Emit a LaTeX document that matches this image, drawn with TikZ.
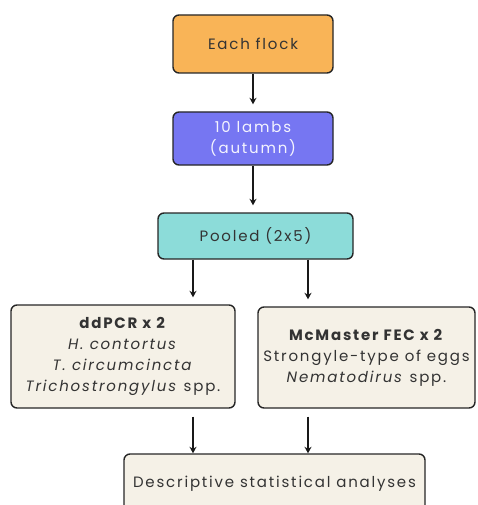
\documentclass[tikz,border=0pt]{standalone}
\usepackage{fontspec}
\setmainfont{Poppins}[LetterSpace=12]
\usepackage{tikz}
\usetikzlibrary{arrows.meta}

\definecolor{flockorange}{HTML}{F9B457}
\definecolor{lambblue}{HTML}{7676F2}
\definecolor{poolteal}{HTML}{8CDCD9}
\definecolor{labbeige}{HTML}{F5F1E7}

\begin{document}
\begin{tikzpicture}[x=1pt, y=-1pt,
  box/.style={draw=black!85, line width=1.4pt, rounded corners=6pt, align=center,
    inner sep=0pt, font=\fontsize{15}{21}\selectfont, text=black!80},
  >={Stealth[length=6.5pt,width=7pt]}]
  \useasboundingbox (0,0) rectangle (477,505);
  \node (flock) [box, fill=flockorange, minimum width=160pt, minimum height=58pt] at (253,44) {Each flock};
  \node (lambs) [box, fill=lambblue, text=white!92!lambblue, minimum width=160pt, minimum height=53pt] at (253,138.5) {10 lambs\\(autumn)};
  \node (pooled) [box, fill=poolteal, minimum width=195pt, minimum height=46pt] at (255.5,236) {Pooled (2x5)};
  \node (ddpcr) [box, fill=labbeige, minimum width=224pt, minimum height=103pt] at (123,356.5)
    {\textbf{ddPCR x 2}\\\textit{H. contortus}\\\textit{T. circumcincta}\\\textit{Trichostrongylus} spp.};
  \node (mcmaster) [box, fill=labbeige, minimum width=217pt, minimum height=101pt] at (366.5,357.5)
    {\textbf{McMaster FEC x 2}\\Strongyle-type of eggs\\\textit{Nematodirus} spp.};
  \node (stats) [box, fill=labbeige, minimum width=301pt, minimum height=60pt] at (274.5,484) {Descriptive statistical analyses};
  \coordinate (lft) at (193,0);
  \coordinate (rgt) at (308,0);
  \path[->, line width=1.4pt, black!90]
  (flock.south) edge [shorten >=7pt] (lambs.north)
  (lambs.south) edge [shorten >=7pt] (lambs.south |- pooled.north)
  (pooled.south -| lft) edge [shorten >=7pt] (ddpcr.north -| lft)
  (pooled.south -| rgt) edge [shorten >=7pt] (mcmaster.north -| rgt)
  ;
  \path[->, line width=1.4pt, black!90]
  (ddpcr.south -| lft) edge [shorten <=8pt] (stats.north -| lft)
  (mcmaster.south -| rgt) edge [shorten <=8pt] (stats.north -| rgt)
  ;
\end{tikzpicture}
\end{document}
